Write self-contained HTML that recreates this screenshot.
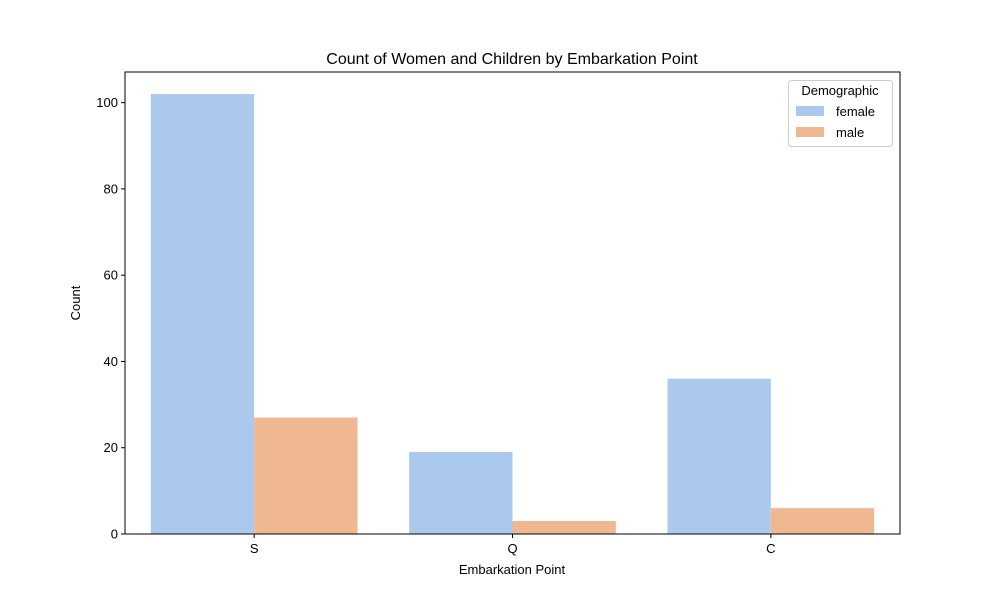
<!DOCTYPE html>
<html><head><meta charset="utf-8"><style>
body{margin:0;background:#fff;}
svg{display:block;font-family:"Liberation Sans","DejaVu Sans",sans-serif;}
</style></head><body>
<svg id="chart" width="1000" height="600">
<text x="512" y="64" font-size="16" text-anchor="middle">Count of Women and Children by Embarkation Point</text>
<text x="512" y="574" font-size="13" text-anchor="middle">Embarkation Point</text>
<text x="80" y="303" font-size="13" text-anchor="middle" transform="rotate(-90 80 303)">Count</text>
<g id="bars"></g><g id="ticks"></g>
<rect x="125" y="72" width="775" height="462" fill="none" stroke="#000" stroke-width="1"/>
<g>
<rect x="788.5" y="80.5" width="104" height="66" rx="3" fill="#fff" fill-opacity="0.8" stroke="#ccc"/>
<text x="840" y="95" font-size="13" text-anchor="middle">Demographic</text>
<rect x="796" y="106" width="28" height="10" fill="#abc9ed"/>
<text x="836" y="116" font-size="13">female</text>
<rect x="796" y="127" width="28" height="10" fill="#f0b892"/>
<text x="836" y="137" font-size="13">male</text>
</g>
</svg>
<script>
const categories=["S","Q","C"];
const femaleValues=[102,19,36];
const maleValues=[27,3,6];
const yTicks=[0,20,40,60,80,100];
const NS="http://www.w3.org/2000/svg";
const x0=125,x1=900,y0=534,y1=72,yMax=107.1;
const xs=i=>x0+(i+0.5)*(x1-x0)/categories.length;
const ys=v=>y0-v*(y0-y1)/yMax;
const bw=(x1-x0)/categories.length*0.4;
const bars=document.getElementById('bars'),ticks=document.getElementById('ticks');
function mk(t,a,p){const e=document.createElementNS(NS,t);for(const k in a)e.setAttribute(k,a[k]);p.appendChild(e);return e;}
categories.forEach((c,i)=>{
 const cx=xs(i);
 let r=mk('rect',{x:cx-bw,y:ys(femaleValues[i]),width:bw,height:y0-ys(femaleValues[i]),fill:'#abc9ed'},bars);
 
 
 r=mk('rect',{x:cx,y:ys(maleValues[i]),width:bw,height:y0-ys(maleValues[i]),fill:'#f0b892'},bars);
 
 
 mk('line',{x1:cx,x2:cx,y1:y0,y2:y0+4,stroke:'#000'},ticks);
 const t=mk('text',{x:cx,y:y0+19,'font-size':13,'text-anchor':'middle'},ticks);t.textContent=c;
 
 
});
yTicks.forEach(v=>{
 const y=ys(v);
 mk('line',{x1:x0-4,x2:x0,y1:y,y2:y,stroke:'#000'},ticks);
 const t=mk('text',{x:x0-7,y:y+4.5,'font-size':13,'text-anchor':'end'},ticks);t.textContent=v;
 
 
});
</script>
</body></html>
